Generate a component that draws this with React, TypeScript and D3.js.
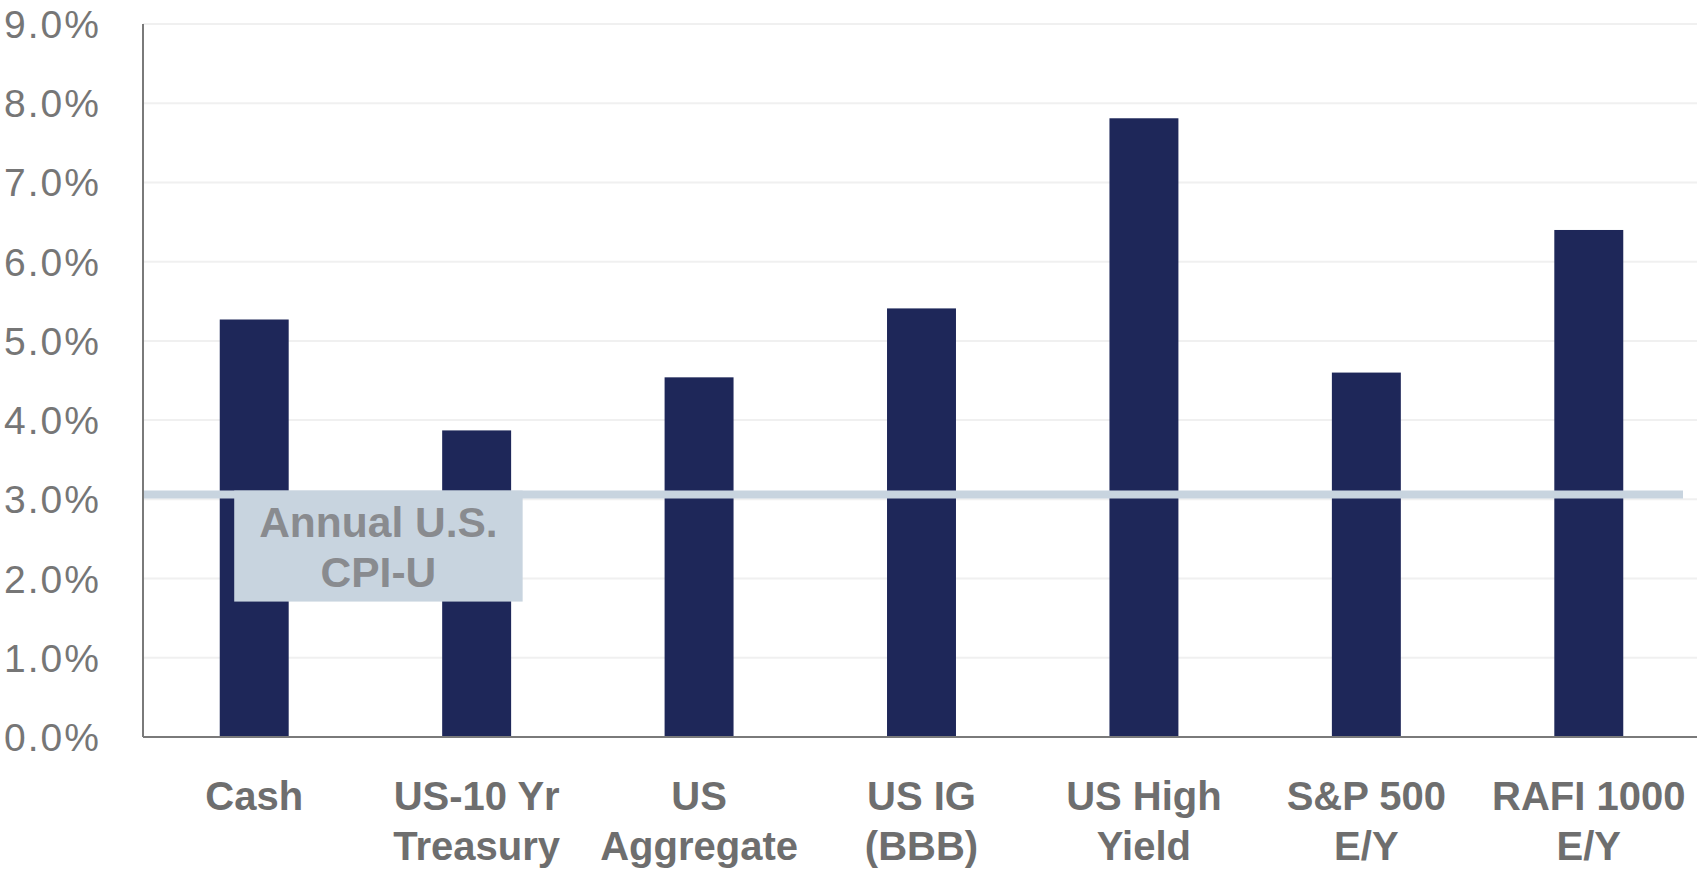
import React from "react";
import * as d3 from "d3";

const categories = ["Cash", "US-10 Yr Treasury", "US Aggregate", "US IG (BBB)", "US High Yield", "S&P 500 E/Y", "RAFI 1000 E/Y"];
const labelLine1 = ["Cash", "US-10 Yr", "US", "US IG", "US High", "S&P 500", "RAFI 1000"];
const labelLine2 = ["", "Treasury", "Aggregate", "(BBB)", "Yield", "E/Y", "E/Y"];
const values = [5.27, 3.87, 4.54, 5.41, 7.81, 4.6, 6.4];
const cpiValue = 3.06;
const cpiLabel = ["Annual U.S.", "CPI-U"];
const yTicks = [0, 1, 2, 3, 4, 5, 6, 7, 8, 9];

const W = 1697;
const H = 870;
const left = 143;
const top = 24;
const bottom = 737;

export default function App() {
  const x = d3.scaleBand<string>().domain(categories).range([left, 1700]).padding(0);
  const y = d3.scaleLinear().domain([0, 9]).range([bottom, top]);
  const bw = x.bandwidth() * 0.31;
  const cx = (c: string) => (x(c) as number) + x.bandwidth() / 2;
  const cpiY = y(cpiValue);
  const boxLeft = cx(categories[0]) - 20;
  const boxRight = cx(categories[1]) + 46;
  const boxTop = cpiY - 4;
  const boxBottom = cpiY + 107;
  const fontFamily = "'Liberation Sans', Arial, sans-serif";

  return (
    <svg width={W} height={H} style={{ position: "absolute", left: 0, top: 0, background: "#fff" }}>
      {yTicks.map((t) => (
        <line key={"g" + t} x1={left} x2={W} y1={y(t)} y2={y(t)} stroke="#f0f0f0" strokeWidth={2} />
      ))}
      {yTicks.map((t) => (
        <text
          key={"t" + t}
          x={101}
          y={y(t)}
          dy="0.36em"
          textAnchor="end"
          fill="#767676"
          fontSize={39}
          letterSpacing={2}
          fontFamily={fontFamily}
        >
          {d3.format(".1f")(t) + "%"}
        </text>
      ))}
      {categories.map((c, i) => (
        <rect key={c} x={cx(c) - bw / 2} y={y(values[i])} width={bw} height={bottom - y(values[i])} fill="#1e2759" />
      ))}
      <rect x={boxLeft} y={boxTop} width={boxRight - boxLeft} height={boxBottom - boxTop} fill="#c8d4df" />
      <line x1={left} x2={1683} y1={cpiY} y2={cpiY} stroke="#c8d4df" strokeWidth={8} />
      {cpiLabel.map((s, i) => (
        <text
          key={s}
          x={(boxLeft + boxRight) / 2}
          y={cpiY + 42 + i * 50}
          textAnchor="middle"
          fill="#898b8f"
          fontSize={42.5}
          fontWeight="bold"
          fontFamily={fontFamily}
        >
          {s}
        </text>
      ))}
      <line x1={left} x2={left} y1={top} y2={bottom} stroke="#7a7a7a" strokeWidth={2} />
      <line x1={left} x2={W} y1={bottom} y2={bottom} stroke="#7a7a7a" strokeWidth={2} />
      {categories.map((c, i) => (
        <g key={"l" + c} fill="#6e6e6e" fontSize={40} fontWeight="bold" fontFamily={fontFamily} textAnchor="middle">
          <text x={cx(c)} y={810}>{labelLine1[i]}</text>
          <text x={cx(c)} y={860}>{labelLine2[i]}</text>
        </g>
      ))}
    </svg>
  );
}
